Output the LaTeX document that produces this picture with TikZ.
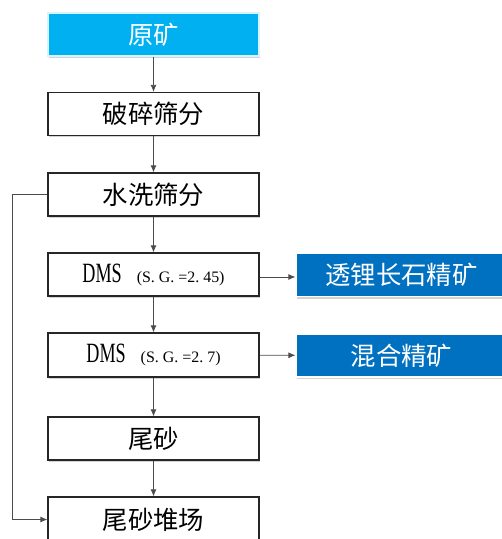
\documentclass[tikz,border=0pt]{standalone}
\usepackage{fontspec}
\setmainfont{Liberation Serif}
\newfontfamily\cjk{Noto Sans CJK SC}
\newfontfamily\dmsfont[FakeStretch=0.65]{Liberation Serif}
\usepackage{tikz}
\usetikzlibrary{shadows,arrows.meta}
\definecolor{rawblue}{HTML}{00B0F0}
\definecolor{prodblue}{HTML}{0070C0}
\newcommand{\dmslabel}[1]{{\dmsfont\fontsize{28}{28}\selectfont DMS}\hspace{15bp}{\rmfamily\fontsize{16}{16}\selectfont (#1)}}

\begin{document}
\begin{tikzpicture}[x=1bp,y=-1bp,
    stepbox/.style={draw=black!85,line width=1.2bp,fill=white,minimum width=211bp,minimum height=43bp,inner sep=0pt,
        font=\cjk\fontsize{25.5}{25.5}\selectfont,drop shadow={shadow xshift=1bp,shadow yshift=-2bp,opacity=0.35}},
    rawbox/.style={stepbox,draw=white!85!cyan,fill=rawblue,text=white},
    prodbox/.style={stepbox,draw=white,fill=prodblue,text=white},
    flow/.style={draw=black!70,line width=0.8bp,-{Latex[length=7bp,width=6bp]}}]
\useasboundingbox (0,0) rectangle (502,539);

% main column
\node[rawbox] (ore) at (153.5,34.5) {原矿};
\node[stepbox] (crush) at (153.5,114) {破碎筛分};
\node[stepbox] (wash) at (153.5,194.5) {水洗筛分};
\node[stepbox] (dmsa) at (153.5,274.5) {\dmslabel{S.\ G.\ =2.\ 45}};
\node[stepbox,minimum height=44bp] (dmsb) at (153.5,355) {\dmslabel{S.\ G.\ =2.\ 7}};
\node[stepbox] (tail) at (153.5,438.5) {尾砂};
\node[stepbox,minimum height=45bp] (dump) at (153.5,519.5) {尾砂堆场};

% products
\node[prodbox] (spod) at (401.5,275) {透锂长石精矿};
\node[prodbox] (mix) at (401.5,355.5) {混合精矿};

% connectors
\foreach \a/\b in {ore/crush,crush/wash,wash/dmsa,dmsa/dmsb,dmsb/tail,tail/dump}
    \draw[flow] (\a) -- (\b);
\draw[flow] (dmsa.east |- 0,277) -- (spod.west |- 0,277);
\draw[flow] (dmsb) -- (mix);
\draw[flow] (wash.west) -- (12,194.5) |- (dump.west);
\end{tikzpicture}
\end{document}
